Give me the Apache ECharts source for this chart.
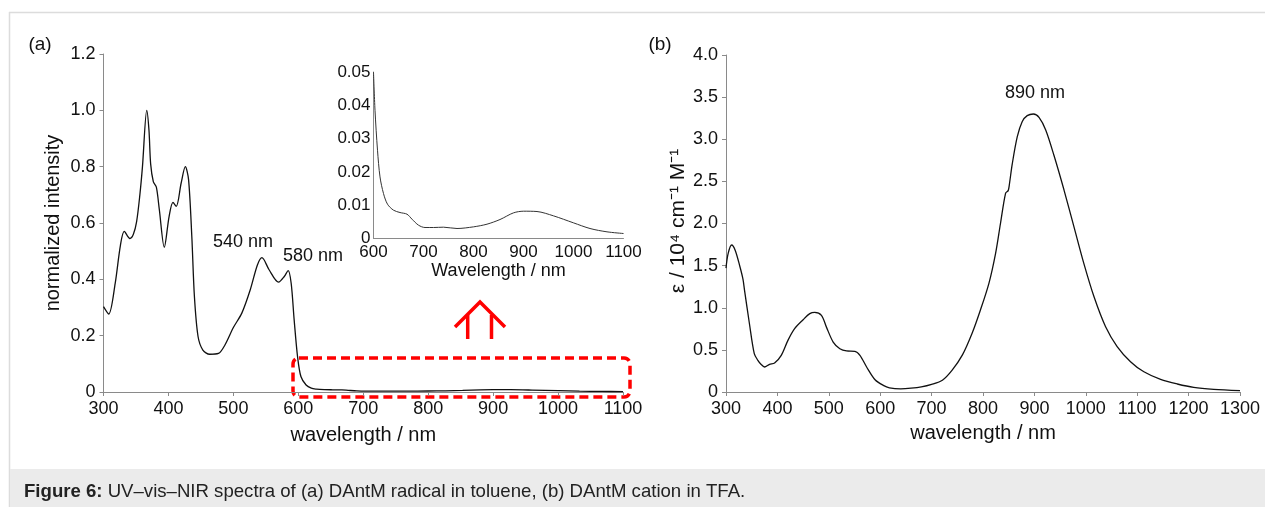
<!DOCTYPE html>
<html>
<head>
<meta charset="utf-8">
<script src="https://cdn.jsdelivr.net/npm/echarts@6/dist/echarts.min.js"></script>
<style>
html,body{margin:0;padding:0;background:#fff;}
#chart{width:1265px;height:507px;}
</style>
</head>
<body>
<div id="chart"></div>
<script>
// ---------- data ----------
// (a) DAntM radical in toluene, normalized intensity
const aWl  = [300,308,318,326,332,340.6,346,351,356,360,366.6,370,372.6,376.7,381.4,386,393.6,401,407,412,419.6,426,431,436,440,445.6,453,463.5,477,487,500,513,526,537,544,555,569.6,578.4,584.4,589,593.6,598.8,604,612,620,628,640,653,667,677,690,703,720,740,767,800,827,853,880,900,927,960,1000,1033,1067,1100];
const aInt = [0.303,0.277,0.386,0.52,0.57,0.545,0.56,0.605,0.70,0.80,1.0,0.93,0.81,0.747,0.727,0.647,0.514,0.623,0.673,0.659,0.742,0.80,0.754,0.552,0.339,0.197,0.149,0.134,0.137,0.167,0.229,0.28,0.363,0.451,0.477,0.434,0.39,0.41,0.431,0.386,0.256,0.126,0.055,0.025,0.0135,0.0103,0.0085,0.0078,0.0073,0.0058,0.004,0.0033,0.0033,0.0034,0.003,0.0035,0.0043,0.0057,0.0077,0.0082,0.0081,0.0068,0.0047,0.003,0.002,0.0015];
// inset: 600–1100 nm region of (a)
const insetWl  = [600,603,608,613,620,628,640,653,667,677,690,703,720,740,767,800,827,853,880,900,927,960,1000,1033,1067,1100];
const insetVal = [0.05,0.0385,0.0265,0.0185,0.0135,0.0103,0.0085,0.0078,0.0073,0.0058,0.004,0.0033,0.0033,0.0034,0.003,0.0035,0.0043,0.0057,0.0077,0.0082,0.0081,0.0068,0.0047,0.003,0.002,0.0015];
// (b) DAntM cation in TFA, epsilon / 10^4 cm-1 M-1
const bWl  = [300,304,311,318,327,333,336,345.6,355,362,368,375,384.7,394.5,407.5,420.5,433.5,450,463,472.6,485.7,495.4,508.5,521.5,534.5,550.8,560.6,573.6,590,606,618,640,660,680,700,721,740,760,779,795,811.5,824.5,834,844,849,851,857,866.7,876.4,886,898,909,922,938,957.5,977,996,1016,1038.5,1061,1087,1113,1145.5,1178,1210,1249,1300];
const bEps = [1.47,1.64,1.745,1.68,1.49,1.34,1.21,0.81,0.455,0.376,0.33,0.297,0.328,0.344,0.435,0.613,0.752,0.858,0.93,0.946,0.91,0.77,0.593,0.514,0.487,0.483,0.435,0.297,0.146,0.079,0.05,0.038,0.045,0.06,0.09,0.14,0.26,0.44,0.70,0.973,1.29,1.646,2.0,2.36,2.39,2.45,2.71,3.03,3.21,3.28,3.30,3.26,3.11,2.81,2.40,1.96,1.53,1.13,0.775,0.54,0.36,0.24,0.15,0.095,0.055,0.032,0.016];
// tick labels
const aYLabels = ['0','0.2','0.4','0.6','0.8','1.0','1.2'];
const insetYLabels = ['0','0.01','0.02','0.03','0.04','0.05'];
const bYLabels = ['0','0.5','1.0','1.5','2.0','2.5','3.0','3.5','4.0'];
// texts
const captionBold = 'Figure 6:';
const captionText = ' UV\u2013vis\u2013NIR spectra of (a) DAntM radical in toluene, (b) DAntM cation in TFA.';

// ---------- chart ----------
const FONT = '"Liberation Sans", Arial, Helvetica, sans-serif';
const zip = (xs, ys) => xs.map((x, i) => [x, ys[i]]);
const axisCol = '#8a8a8a';

function xAxis(gi, min, max, fs, name, gap, nfs, showTicks) {
  return {
    type: 'value', gridIndex: gi, min: min, max: max, interval: 100,
    name: name, nameLocation: 'middle', nameGap: gap,
    nameTextStyle: {fontFamily: FONT, fontSize: nfs, color: '#111'},
    axisLine: {show: true, onZero: false, lineStyle: {color: axisCol, width: 1}},
    axisTick: {show: showTicks, inside: false, length: 4, lineStyle: {color: axisCol}},
    axisLabel: {fontFamily: FONT, fontSize: fs, color: '#111', margin: showTicks ? 8 : 5,
      showMinLabel: true, showMaxLabel: true, hideOverlap: false, formatter: v => String(v)},
    splitLine: {show: false}
  };
}
function yAxis(gi, max, interval, labels, fs, name, gap, nfs, showTicks, margin) {
  return {
    type: 'value', gridIndex: gi, min: 0, max: max, interval: interval,
    name: name, nameLocation: 'middle', nameGap: gap, nameRotate: 90,
    nameTextStyle: {fontFamily: FONT, fontSize: nfs, color: '#111'},
    axisLine: {show: true, lineStyle: {color: axisCol, width: 1}},
    axisTick: {show: showTicks, inside: false, length: 4, lineStyle: {color: axisCol}},
    axisLabel: {fontFamily: FONT, fontSize: fs, color: '#111', margin: margin,
      showMinLabel: true, showMaxLabel: true, hideOverlap: false,
      formatter: v => labels[Math.round(v / interval)]},
    splitLine: {show: false}
  };
}

const chart = echarts.init(document.getElementById('chart'), null, {renderer: 'canvas'});
const option = {
  animation: false,
  backgroundColor: '#fff',
  grid: [
    {left: 103.5, top: 54, width: 519.5, height: 338, containLabel: false, outerBoundsMode: 'none'},
    {left: 373.5, top: 72, width: 250, height: 166.5, containLabel: false, outerBoundsMode: 'none'},
    {left: 726, top: 55, width: 514, height: 337, containLabel: false, outerBoundsMode: 'none'}
  ],
  xAxis: [
    xAxis(0, 300, 1100, 18, 'wavelength / nm', 33, 20, true),
    xAxis(1, 600, 1100, 17, 'Wavelength / nm', 24, 18, false),
    xAxis(2, 300, 1300, 18, 'wavelength / nm', 31, 20, true)
  ],
  yAxis: [
    yAxis(0, 1.2, 0.2, aYLabels, 18, 'normalized intensity', 40, 20, true, 8),
    yAxis(1, 0.05, 0.01, insetYLabels, 17, '', 0, 17, false, 3),
    yAxis(2, 4.0, 0.5, bYLabels, 18, '', 0, 20, true, 8)
  ],
  series: [
    {type: 'line', xAxisIndex: 0, yAxisIndex: 0, data: zip(aWl, aInt), showSymbol: false, smooth: 0.3,
     lineStyle: {color: '#111', width: 1.3}},
    {type: 'line', xAxisIndex: 1, yAxisIndex: 1, data: zip(insetWl, insetVal), showSymbol: false, smooth: 0.3,
     lineStyle: {color: '#333', width: 1}},
    {type: 'line', xAxisIndex: 2, yAxisIndex: 2, data: zip(bWl, bEps), showSymbol: false, smooth: 0.3,
     lineStyle: {color: '#111', width: 1.3}}
  ],
  graphic: [
    // frame
    {type: 'line', shape: {x1: 9, y1: 12.5, x2: 1265, y2: 12.5}, style: {stroke: '#dcdcdc', lineWidth: 1.5}, silent: true},
    {type: 'line', shape: {x1: 9.5, y1: 12, x2: 9.5, y2: 507}, style: {stroke: '#dcdcdc', lineWidth: 1.5}, silent: true},
    {type: 'rect', shape: {x: 10, y: 469, width: 1255, height: 38}, style: {fill: '#ebebeb'}, silent: true},
    {type: 'text', x: 24, y: 492, style: {
      text: '{b|' + captionBold + '}' + captionText,
      rich: {b: {fontWeight: 'bold', fontFamily: FONT, fontSize: 18.6, fill: '#222'}},
      fontFamily: FONT, fontSize: 18.6, fill: '#222', verticalAlign: 'middle'}, silent: true},
    // panel labels
    {type: 'text', x: 40, y: 45, style: {text: '(a)', fontFamily: FONT, fontSize: 19, fill: '#111', align: 'center', verticalAlign: 'middle'}},
    {type: 'text', x: 660, y: 45, style: {text: '(b)', fontFamily: FONT, fontSize: 19, fill: '#111', align: 'center', verticalAlign: 'middle'}},
    // annotations
    {type: 'text', x: 243, y: 242, style: {text: '540 nm', fontFamily: FONT, fontSize: 18, fill: '#111', align: 'center', verticalAlign: 'middle'}},
    {type: 'text', x: 313, y: 256, style: {text: '580 nm', fontFamily: FONT, fontSize: 18, fill: '#111', align: 'center', verticalAlign: 'middle'}},
    {type: 'text', x: 1035, y: 93, style: {text: '890 nm', fontFamily: FONT, fontSize: 18, fill: '#111', align: 'center', verticalAlign: 'middle'}},
    // (b) y-axis name
    {type: 'text', x: 678, y: 221, rotation: Math.PI / 2, style: {
      text: '\u03b5 / 10\u2074 cm\u207b\u00b9 M\u207b\u00b9', fontFamily: FONT, fontSize: 21, fill: '#111', align: 'center', verticalAlign: 'middle'}},
    // red dashed box and arrow
    {type: 'rect', shape: {x: 293, y: 358, width: 337, height: 39, r: 6},
     style: {fill: 'none', stroke: '#ff0000', lineWidth: 3.5, lineDash: [9, 5]}, silent: true},
    {type: 'polyline', shape: {points: [[455, 327], [480, 302], [505, 327]]},
     style: {fill: 'none', stroke: '#ff0000', lineWidth: 3.5}, silent: true},
    {type: 'line', shape: {x1: 467.7, y1: 315, x2: 467.7, y2: 339}, style: {stroke: '#ff0000', lineWidth: 3.5}, silent: true},
    {type: 'line', shape: {x1: 491.5, y1: 315, x2: 491.5, y2: 339}, style: {stroke: '#ff0000', lineWidth: 3.5}, silent: true}
  ]
};
chart.setOption(option);
</script>
</body>
</html>
